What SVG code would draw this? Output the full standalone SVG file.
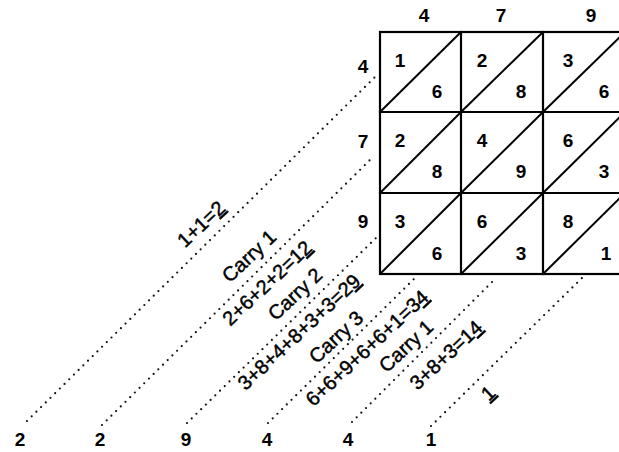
<svg xmlns="http://www.w3.org/2000/svg" width="619" height="452" viewBox="0 0 619 452">
<style>
.g{stroke:#000;stroke-width:2.2;fill:none;stroke-linecap:square}
.d{stroke:#000;stroke-width:2;fill:none}
.dot{stroke:#111;stroke-width:2.2;stroke-linecap:round;stroke-dasharray:0 6.6;fill:none}
.n{font-family:"Liberation Sans",Arial,sans-serif;font-size:19px;font-weight:bold;fill:#000;text-anchor:middle}
.l{font-family:"Liberation Sans",Arial,sans-serif;font-size:20px;fill:#000;stroke:#000;stroke-width:0.45;text-anchor:middle}
.u{text-decoration:underline}
</style>
<rect width="619" height="452" fill="#fff"/>
<g id="connectors">
<line class="dot" x1="27" y1="421" x2="377" y2="75"/>
<line class="dot" x1="102" y1="425" x2="373" y2="157"/>
<line class="dot" x1="187" y1="423" x2="377" y2="237"/>
<line class="dot" x1="268" y1="423" x2="416" y2="277"/>
<line class="dot" x1="352" y1="422" x2="496" y2="278"/>
<line class="dot" x1="431" y1="426" x2="583" y2="277"/>
</g>
<g id="grid">
<rect class="g" x="380" y="32" width="245" height="242"/>
<line class="g" x1="461" y1="32" x2="461" y2="274"/>
<line class="g" x1="543" y1="32" x2="543" y2="274"/>
<line class="g" x1="380" y1="112" x2="625" y2="112"/>
<line class="g" x1="380" y1="193" x2="625" y2="193"/>
</g>
<g id="cell-1-1"><line class="d" x1="380" y1="112" x2="461" y2="32"/><text class="n" x="400" y="67">1</text><text class="n" x="437" y="98">6</text></g>
<g id="cell-1-2"><line class="d" x1="461" y1="112" x2="543" y2="32"/><text class="n" x="482" y="67">2</text><text class="n" x="521" y="98">8</text></g>
<g id="cell-1-3"><line class="d" x1="543" y1="112" x2="625" y2="32"/><text class="n" x="568" y="67">3</text><text class="n" x="604" y="98">6</text></g>
<g id="cell-2-1"><line class="d" x1="380" y1="193" x2="461" y2="112"/><text class="n" x="400" y="147">2</text><text class="n" x="437" y="178">8</text></g>
<g id="cell-2-2"><line class="d" x1="461" y1="193" x2="543" y2="112"/><text class="n" x="482" y="147">4</text><text class="n" x="521" y="178">9</text></g>
<g id="cell-2-3"><line class="d" x1="543" y1="193" x2="625" y2="112"/><text class="n" x="568" y="147">6</text><text class="n" x="604" y="178">3</text></g>
<g id="cell-3-1"><line class="d" x1="380" y1="274" x2="461" y2="193"/><text class="n" x="400" y="228">3</text><text class="n" x="437" y="260">6</text></g>
<g id="cell-3-2"><line class="d" x1="461" y1="274" x2="543" y2="193"/><text class="n" x="482" y="228">6</text><text class="n" x="521" y="260">3</text></g>
<g id="cell-3-3"><line class="d" x1="543" y1="274" x2="625" y2="193"/><text class="n" x="568" y="228">8</text><text class="n" x="606" y="260">1</text></g>
<g id="top-digits">
<text class="n" x="424" y="22">4</text>
<text class="n" x="501" y="22">7</text>
<text class="n" x="591" y="22">9</text>
</g>
<g id="left-digits">
<text class="n" x="363" y="73">4</text>
<text class="n" x="363" y="148">7</text>
<text class="n" x="363" y="228">9</text>
</g>
<g id="bottom-digits">
<text class="n" x="20" y="446">2</text>
<text class="n" x="100" y="446">2</text>
<text class="n" x="186" y="446">9</text>
<text class="n" x="267" y="446">4</text>
<text class="n" x="348" y="446">4</text>
<text class="n" x="431" y="446">1</text>
</g>
<g id="labels">
<text class="l" transform="translate(201,224) rotate(-43)" y="7">1+1=<tspan class="u">2</tspan></text>
<text class="l" transform="translate(249,256) rotate(-43)" y="7">Carry 1</text>
<text class="l" transform="translate(267,283) rotate(-43)" y="7">2+6+2+2=1<tspan class="u">2</tspan></text>
<text class="l" transform="translate(295,294) rotate(-43)" y="7">Carry 2</text>
<text class="l" transform="translate(299,332) rotate(-43)" y="7">3+8+4+8+3+3=2<tspan class="u">9</tspan></text>
<text class="l" transform="translate(336,337) rotate(-43)" y="7">Carry 3</text>
<text class="l" transform="translate(367,348) rotate(-43)" y="7">6+6+9+6+6+1=3<tspan class="u">4</tspan></text>
<text class="l" transform="translate(406,346) rotate(-43)" y="7">Carry 1</text>
<text class="l" transform="translate(446,355) rotate(-43)" y="7">3+8+3=1<tspan class="u">4</tspan></text>
<text class="l" transform="translate(488,393) rotate(-43)" y="7"><tspan class="u">1</tspan></text>
</g>
</svg>
